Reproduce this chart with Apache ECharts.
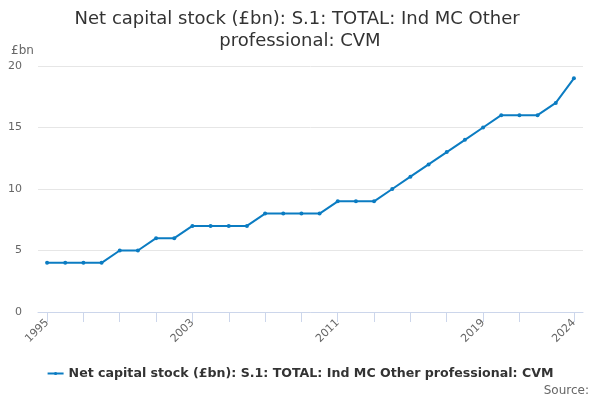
<!DOCTYPE html>
<html lang="en">
<head>
  <meta charset="UTF-8">
  <title>Net capital stock - ECharts</title>
  <script src="https://cdn.jsdelivr.net/npm/echarts@6/dist/echarts.min.js"></script>
  <style>
    html, body { margin: 0; padding: 0; background: #fff; }
  </style>
</head>
<body>
  <div id="main" style="width: 600px; height: 400px;"></div>
  <script>
    // Years 1995..2024
    const years = ['1995','1996','1997','1998','1999','2000','2001','2002','2003','2004',
                   '2005','2006','2007','2008','2009','2010','2011','2012','2013','2014',
                   '2015','2016','2017','2018','2019','2020','2021','2022','2023','2024'];
    // Net capital stock (£bn)
    const values = [4, 4, 4, 4, 5, 5, 6, 6, 7, 7,
                    7, 7, 8, 8, 8, 8, 9, 9, 9, 10,
                    11, 12, 13, 14, 15, 16, 16, 16, 17, 19];
    const labelYears = ['1995', '2003', '2011', '2019', '2024'];
    const tickYears = ['1995','1997','1999','2001','2003','2005','2007','2009','2011',
                       '2013','2015','2017','2019','2021','2024'];

    const seriesName = 'Net capital stock (£bn): S.1: TOTAL: Ind MC Other professional: CVM';
    const font = 'DejaVu Sans';

    let myChart = echarts.init(document.getElementById('main'));

    const options = {
      textStyle: { fontFamily: font },
      title: {
        text: 'Net capital stock (£bn): S.1: TOTAL: Ind MC Other professional: CVM',
        left: 'center',
        top: 3,
        textStyle: { fontSize: 18, fontWeight: 'normal', color: '#333', width: 480, overflow: 'break', lineHeight: 22, fontFamily: font }
      },
      graphic: [
        { type: 'text', left: 11, top: 45, style: { text: '£bn', fontSize: 12, fill: '#666', fontFamily: font } },
        { type: 'text', right: 11, top: 385, style: { text: 'Source:', fontSize: 12, fill: '#666', fontFamily: font } }
      ],
      legend: {
        bottom: 15,
        left: 'center',
        itemWidth: 16,
        itemHeight: 4,
        textStyle: { fontSize: 12.6, fontWeight: 'bold', color: '#333', fontFamily: font },
        data: [seriesName]
      },
      grid: { left: 38, right: 17, top: 66, bottom: 88, containLabel: false },
      xAxis: {
        type: 'category',
        data: years,
        boundaryGap: true,
        axisLine: { lineStyle: { color: '#ccd6eb' } },
        axisTick: {
          show: true,
          alignWithLabel: true,
          length: 10,
          lineStyle: { color: '#ccd6eb', width: 1 },
          interval: function (i) { return tickYears.indexOf(years[i]) >= 0; }
        },
        axisLabel: {
          interval: function (i) { return labelYears.indexOf(years[i]) >= 0; },
          rotate: 45,
          color: '#666',
          fontSize: 11,
          margin: 9,
          fontFamily: font
        }
      },
      yAxis: {
        type: 'value',
        min: 0,
        max: 20,
        interval: 5,
        axisLine: { show: false },
        axisTick: { show: false },
        axisLabel: { color: '#666', fontSize: 11, margin: 16, fontFamily: font },
        splitLine: { lineStyle: { color: '#e6e6e6' } }
      },
      series: [{
        name: seriesName,
        type: 'line',
        data: values,
        color: '#0b7cc2',
        symbol: 'circle',
        symbolSize: 4,
        lineStyle: { width: 2 },
        animation: false
      }]
    };

    myChart.setOption(options);
  </script>
</body>
</html>
